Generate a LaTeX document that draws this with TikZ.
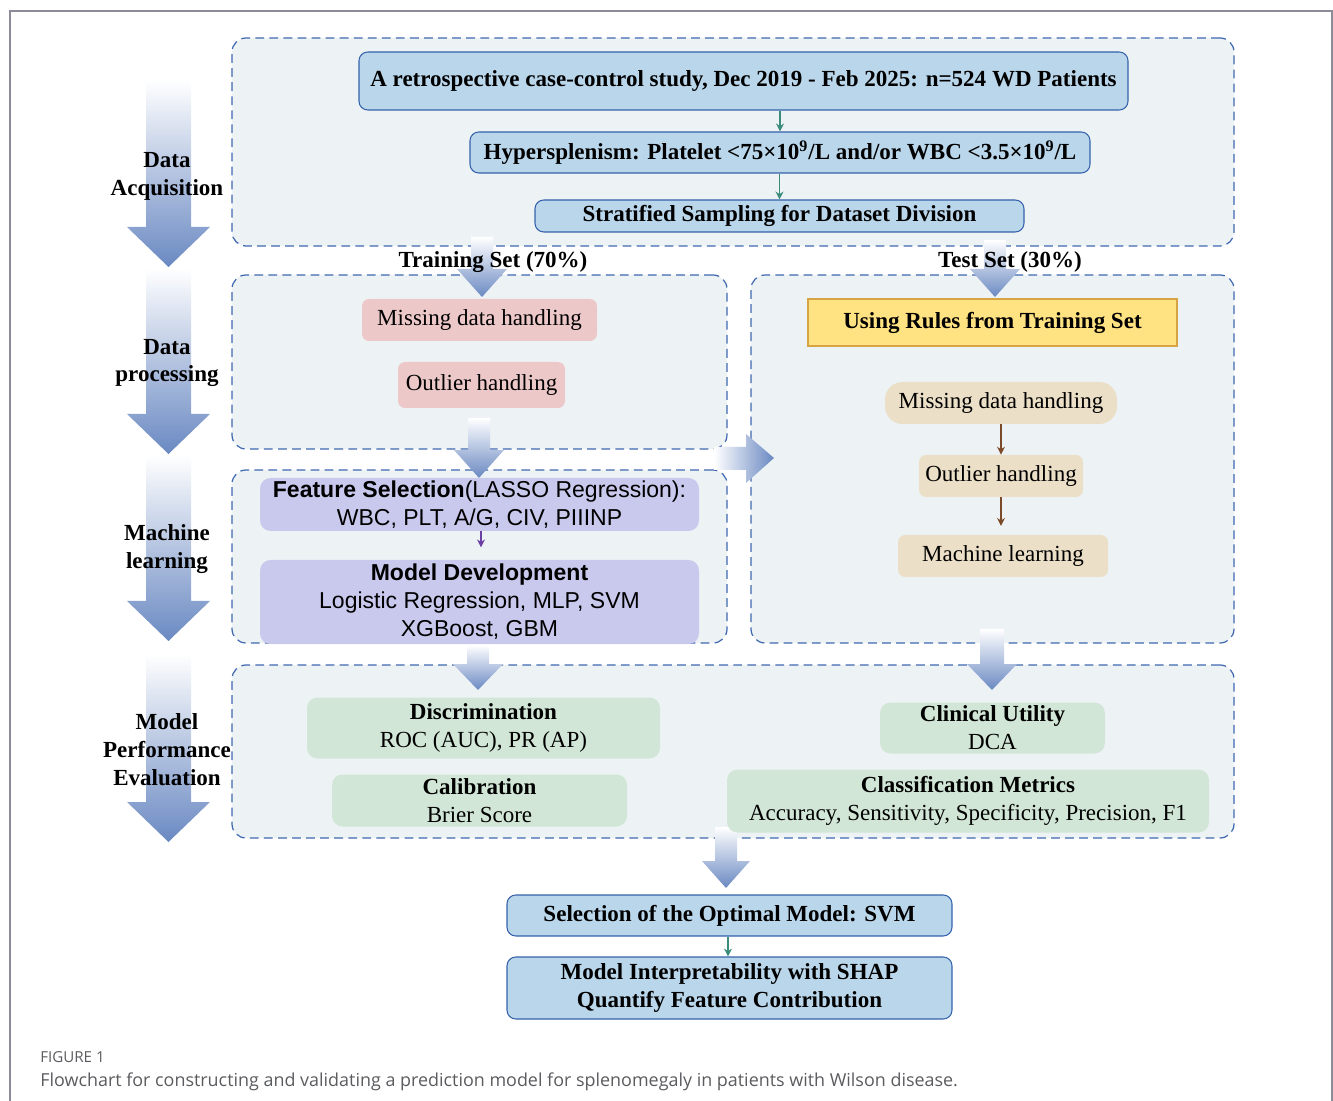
\documentclass[tikz,border=0pt]{standalone}
\usepackage{fontspec}
\setmainfont{Liberation Serif}
\setsansfont{Liberation Sans}
\newfontfamily\capfont{Open Sans}
\usetikzlibrary{arrows.meta,positioning,shapes}
\definecolor{panelfill}{HTML}{EDF2F5}
\definecolor{paneldash}{HTML}{3F68B0}
\definecolor{bluefill}{HTML}{BAD6EB}
\definecolor{blueline}{HTML}{3562AA}
\definecolor{tealarr}{HTML}{3C8C7C}
\definecolor{pinkfill}{HTML}{EDC8C8}
\definecolor{rulefill}{HTML}{FFE281}
\definecolor{ruleline}{HTML}{D7A444}
\definecolor{tanfill}{HTML}{ECDFC7}
\definecolor{brownarr}{HTML}{7B4A28}
\definecolor{lavfill}{HTML}{C9C9EE}
\definecolor{purplearr}{HTML}{6B3FA3}
\definecolor{greenfill}{HTML}{D1E6D6}
\definecolor{fatblue}{HTML}{6A89C2}
\definecolor{framegray}{HTML}{8C8C98}
\definecolor{capgray}{HTML}{5A5B5E}
\newcommand{\fs}{\fontsize{13.1}{15.9}\selectfont}
\tikzset{wh/.style 2 args={minimum width=#1*0.02cm, minimum height=#2*0.02cm, inner sep=0pt}}
% fat shaded arrow pointing down: x, top, head base, tip, half shaft, half head
\newcommand{\fatdown}[6]{%
  \shade[top color=white, bottom color=fatblue]
    (#1-#5,#2) -- (#1+#5,#2) -- (#1+#5,#3) -- (#1+#6,#3) -- (#1,#4)
    -- (#1-#6,#3) -- (#1-#5,#3) -- cycle;}

\begin{document}
\begin{tikzpicture}[x=0.02cm, y=-0.02cm,
    panel/.style={draw=paneldash, fill=panelfill, dash pattern=on 5pt off 3pt,
                  line width=0.7pt, rounded corners=8pt},
    hdr/.style={draw=blueline, fill=bluefill, rounded corners=5pt, line width=0.6pt,
                font=\fs\bfseries, align=center},
    pinkbox/.style={fill=pinkfill, rounded corners=4pt, font=\fs},
    tanbox/.style={fill=tanfill, rounded corners=4pt, font=\fs},
    lavbox/.style={fill=lavfill, rounded corners=6pt, font=\fs\sffamily, align=center},
    greenbox/.style={fill=greenfill, rounded corners=6pt, font=\fs, align=center},
    stagelbl/.style={font=\fs\bfseries, align=center},
    thin/.style={-{Stealth[length=4.5pt,width=4.5pt]}, line width=0.6pt},
]
\useasboundingbox (0,0) rectangle (1333,1101);

% Outer frame
\draw[framegray, line width=0.8pt] (10,1101) -- (10,11) -- (1332,11) -- (1332,1101);

% Panels
\node[panel, wh={1002}{208}] (acq) at (733,142) {};
\node[panel, wh={495}{174}] (trainp) at (479.5,362) {};
\node[panel, wh={483}{368}] (testp) at (992.5,459) {};
\node[panel, wh={495}{173}] (mlp) at (479.5,556.5) {};
\node[panel, wh={1002}{173}] (evalp) at (733,751.5) {};

% Stage arrows on the left
\fatdown{168.5}{80}{227}{267}{22.5}{41.5}
\fatdown{168.5}{268}{414}{454}{22.5}{41.5}
\fatdown{168.5}{455}{601}{641}{22.5}{41.5}
\fatdown{168.5}{654}{802}{842}{22.5}{41.5}

% Stage labels
\node[stagelbl] (lbla) at (167,176) {Data\\Acquisition};
\node[stagelbl] (lblb) at (167,363) {Data\\processing};
\node[stagelbl] (lblc) at (167,549) {Machine\\learning};
\node[stagelbl] (lbld) at (167,750) {Model\\Performance\\Evaluation};

% Flow arrows between panels
\fatdown{482}{237}{269}{297}{11}{25}
\fatdown{995}{240}{269}{297}{11}{25}
\fatdown{479}{418}{450}{478}{11}{25}
\fatdown{478}{645}{664}{690}{11}{25}
\fatdown{992}{629}{664}{690}{12}{25}
\fatdown{726}{827}{861}{888}{11}{24}
\shade[left color=white, right color=fatblue]
  (714,447) -- (746,447) -- (746,434) -- (774,458) -- (746,483) -- (746,470) -- (714,470) -- cycle;

% Data acquisition
\node[hdr, wh={769}{58}] (retro) at (743.5,81)
  {A retrospective case-control study, Dec 2019 - Feb 2025: n=524 WD Patients};
\node[hdr, wh={620}{41}] (hyper) at (780,152.5)
  {Hypersplenism: Platelet <75×10\textsuperscript{9}/L and/or WBC <3.5×10\textsuperscript{9}/L};
\node[hdr, wh={489}{32}] (strat) at (779.5,216) {Stratified Sampling for Dataset Division};
\draw[thin, tealarr] (hyper.north |- retro.south) -- (hyper.north);
\draw[thin, tealarr] (strat.north |- hyper.south) -- (strat.north);

\node[font=\fs\bfseries] (trainlbl) at (493,262) {Training Set (70\%)};
\node[font=\fs\bfseries] (testlbl) at (1010,262) {Test Set (30\%)};

% Training set processing
\node[pinkbox, wh={235}{42}] (pmiss) at (479.5,320) {Missing data handling};
\node[pinkbox, wh={167}{46}] (pout) at (481.5,385) {Outlier handling};

% Test set
\node[draw=ruleline, fill=rulefill, line width=0.6pt, font=\fs\bfseries, wh={369}{47}]
  (rules) at (992.5,322.5) {Using Rules from Training Set};
\node[tanbox, rounded corners=10pt, wh={232}{42}] (tmiss) at (1001,403) {Missing data handling};
\node[tanbox, wh={164}{42}] (tout) at (1001,476) {Outlier handling};
\node[tanbox, wh={210}{42}] (tml) at (1003,556) {Machine learning};
\draw[thin, brownarr] (tmiss) -- (tout);
\draw[thin, brownarr, shorten >=5pt] (tout) -- (tml.north -| tout.south);

% Machine learning
\node[lavbox, wh={439}{53}] (fsel) at (479.5,504.5)
  {\textbf{Feature Selection}(LASSO Regression):\\WBC, PLT, A/G, CIV, PIIINP};
\node[lavbox, wh={439}{84}] (mdev) at (479.5,602)
  {\textbf{Model Development}\\Logistic Regression, MLP, SVM\\XGBoost, GBM};
\draw[thin, purplearr, shorten >=7pt] (fsel.south -| 481,0) -- (mdev.north -| 481,0);

% Evaluation
\node[greenbox, wh={353}{61}] (disc) at (483.5,728) {\textbf{Discrimination}\\ROC (AUC), PR (AP)};
\node[greenbox, wh={295}{52}] (calib) at (479.5,800.5) {\textbf{Calibration}\\Brier Score};
\node[greenbox, wh={225}{51}] (clin) at (992.5,728) {\textbf{Clinical Utility}\\DCA};
\node[greenbox, wh={482}{63}] (clsm) at (968,801) 
  {\textbf{Classification Metrics}\\Accuracy, Sensitivity, Specificity, Precision, F1};

% Final model
\node[hdr, wh={445}{41}] (optm) at (729.5,915.5) {Selection of the Optimal Model: SVM};
\node[hdr, wh={445}{62}] (shap) at (729.5,988) {Model Interpretability with SHAP\\Quantify Feature Contribution};
\draw[thin, tealarr] (optm.south -| 728,0) -- (shap.north -| 728,0);

% Caption
\node[anchor=base west, inner sep=0pt, font=\capfont\fontsize{8.6}{10}\selectfont, text=capgray]
  (figno) at (40,1062) {FIGURE 1};
\node[anchor=base west, inner sep=0pt, font=\capfont\fontsize{10.2}{12}\selectfont, text=capgray]
  (caption) at (40,1086) {Flowchart for constructing and validating a prediction model for splenomegaly in patients with Wilson disease.};
\end{tikzpicture}
\end{document}
